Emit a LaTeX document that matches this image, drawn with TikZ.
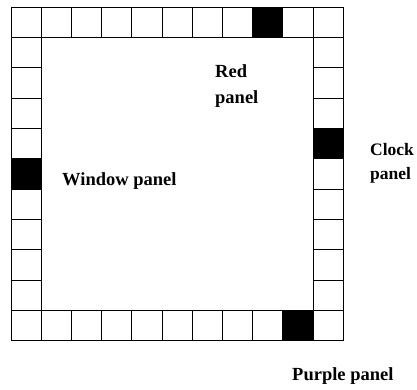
\documentclass[tikz,border=0pt]{standalone}
\usepackage{fontspec}
\setmainfont{Liberation Serif}
\begin{document}
\begin{tikzpicture}[x=1pt,y=-1pt,
  cellbox/.style={draw=black,line width=0.8pt},
  darkcell/.style={draw=black,line width=0.8pt,fill=black},
  lbl/.style={anchor=base west,inner sep=0pt,font=\fontsize{18.5}{22}\selectfont\bfseries}]
\useasboundingbox (0,0) rectangle (417,389);
\def\cw{30.2}
\def\ch{30.35}
% top and bottom rows
\foreach \i in {0,...,10}{
  \draw[cellbox] ({11+\i*\cw},7) rectangle ++(\cw,\ch);
  \draw[cellbox] ({11+\i*\cw},{7+10*\ch}) rectangle ++(\cw,\ch);
}
% left and right columns
\foreach \j in {1,...,9}{
  \draw[cellbox] (11,{7+\j*\ch}) rectangle ++(\cw,\ch);
  \draw[cellbox] ({11+10*\cw},{7+\j*\ch}) rectangle ++(\cw,\ch);
}
% dark panels
\draw[darkcell] ({11+8*\cw},7) rectangle ++(\cw,\ch);
\draw[darkcell] ({11+10*\cw},{7+4*\ch}) rectangle ++(\cw,\ch);
\draw[darkcell] (11,{7+5*\ch}) rectangle ++(\cw,\ch);
\draw[darkcell] ({11+9*\cw},{7+10*\ch}) rectangle ++(\cw,\ch);
% labels
\node[lbl] (red1) at (215,77) {Red};
\node[lbl] (red2) at (215,103) {panel};
\node[lbl] (window) at (62,185) {Window panel};
\node[lbl,font=\fontsize{17.5}{21}\selectfont\bfseries] (clock1) at (370,155) {Clock};
\node[lbl,font=\fontsize{17.5}{21}\selectfont\bfseries] (clock2) at (370,179) {panel};
\node[lbl] (purple) at (292,380) {Purple panel};
\end{tikzpicture}
\end{document}
